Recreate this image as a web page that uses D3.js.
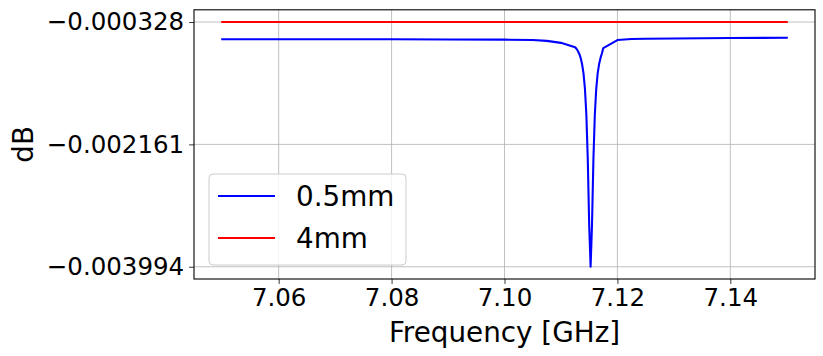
<!DOCTYPE html>
<html>
<head>
<meta charset="utf-8">
<script src="https://cdn.jsdelivr.net/npm/d3@7"></script>
<style>
  html, body { margin: 0; padding: 0; background: #fff; }
  svg { display: block; font-family: "DejaVu Sans", sans-serif; }
</style>
</head>
<body>
<svg id="chart" width="823" height="356"></svg>
<script>
// ---- data ----
const freqBlue = [
  7.05, 7.06, 7.07, 7.08, 7.09, 7.10, 7.105, 7.1075, 7.11,
  7.1125, 7.11275, 7.113, 7.11325, 7.1135, 7.11375, 7.114, 7.11425, 7.1145, 7.11475, 7.115,
  7.11525,
  7.1155, 7.11575, 7.116, 7.11625, 7.1165, 7.11675, 7.117, 7.11725, 7.1175,
  7.12, 7.1225, 7.125, 7.13, 7.14, 7.15
];
const valBlue = [
  -0.000587, -0.000587, -0.000587, -0.000587, -0.000589, -0.000592, -0.000598, -0.000610, -0.000640,
  -0.000705, -0.000729, -0.000762, -0.000806, -0.000869, -0.000961, -0.001101, -0.001329, -0.001716, -0.002382, -0.003366,
  -0.003994,
  -0.003366, -0.002382, -0.001716, -0.001329, -0.001101, -0.000961, -0.000869, -0.000800, -0.000718,
  -0.000598, -0.000583, -0.000578, -0.000574, -0.000568, -0.000563
];
const freqRed = [7.05, 7.06, 7.07, 7.08, 7.09, 7.10, 7.11, 7.12, 7.13, 7.14, 7.15];
const valRed  = [-0.000328, -0.000328, -0.000328, -0.000328, -0.000328, -0.000328, -0.000328, -0.000328, -0.000328, -0.000328, -0.000328];
const xTicks = [7.06, 7.08, 7.10, 7.12, 7.14];
const yTicks = [-0.000328, -0.002161, -0.003994];
const seriesNames = ["0.5mm", "4mm"];
const seriesColors = ["#0000ff", "#ff0000"];

// ---- layout ----
const svg = d3.select("#chart");
const L = 194, R = 815, T = 9.8, B = 279;
const xMin = 7.05, xMax = 7.15, xPad = (xMax - xMin) * 0.05;
const yMin = -0.003994, yMax = -0.000328, yPad = (yMax - yMin) * 0.05;
const x = d3.scaleLinear().domain([xMin - xPad, xMax + xPad]).range([L, R]);
const y = d3.scaleLinear().domain([yMin - yPad, yMax + yPad]).range([B, T]);

const tickFont = 24.5, labelFont = 27.8;
const fmtMinus = v => v.toFixed(6).replace("-", "\u2212");

// grid
const grid = svg.append("g");
grid.selectAll("line.gx").data(xTicks).join("line")
  .attr("x1", d => x(d)).attr("x2", d => x(d)).attr("y1", T).attr("y2", B)
  .attr("stroke", "#b0b0b0").attr("stroke-width", 0.8);
grid.selectAll("line.gy").data(yTicks).join("line")
  .attr("y1", d => y(d)).attr("y2", d => y(d)).attr("x1", L).attr("x2", R)
  .attr("stroke", "#b0b0b0").attr("stroke-width", 0.8);

// lines
const line = d3.line().x(d => x(d[0])).y(d => y(d[1]));
const blueData = freqBlue.map((f, i) => [f, valBlue[i]]);
const redData = freqRed.map((f, i) => [f, valRed[i]]);
svg.append("path").datum(blueData).attr("d", line)
  .attr("fill", "none").attr("stroke", seriesColors[0]).attr("stroke-width", 2.08)
  .attr("stroke-linejoin", "round").attr("stroke-linecap", "square");
svg.append("path").datum(redData).attr("d", line)
  .attr("fill", "none").attr("stroke", seriesColors[1]).attr("stroke-width", 2.08)
  .attr("stroke-linecap", "square");

// axes
const xAxis = d3.axisBottom(x).tickValues(xTicks).tickFormat(d3.format(".2f"))
  .tickSize(4.9).tickPadding(4.9);
const gx = svg.append("g").attr("transform", `translate(0,${B})`).call(xAxis);
gx.select(".domain").remove();
gx.selectAll("line").attr("stroke", "#000").attr("stroke-width", 0.8);
gx.selectAll("text").attr("font-size", tickFont).attr("fill", "#000")
  .attr("font-family", "DejaVu Sans");

const yAxis = d3.axisLeft(y).tickValues(yTicks).tickFormat(fmtMinus)
  .tickSize(4.9).tickPadding(4.9);
const gy = svg.append("g").attr("transform", `translate(${L},0)`).call(yAxis);
gy.select(".domain").remove();
gy.selectAll("line").attr("stroke", "#000").attr("stroke-width", 0.8);
gy.selectAll("text").attr("font-size", tickFont).attr("fill", "#000")
  .attr("font-family", "DejaVu Sans");

// frame
svg.append("rect").attr("x", L).attr("y", T).attr("width", R - L).attr("height", B - T)
  .attr("fill", "none").attr("stroke", "#000").attr("stroke-width", 1.1);

// axis labels
svg.append("text").attr("x", (L + R) / 2).attr("y", 342)
  .attr("text-anchor", "middle").attr("font-size", labelFont).attr("fill", "#000")
  .text("Frequency [GHz]");
svg.append("text")
  .attr("transform", `translate(33,${(T + B) / 2}) rotate(-90)`)
  .attr("text-anchor", "middle").attr("font-size", labelFont).attr("fill", "#000")
  .text("dB");

// legend
const lg = svg.append("g");
lg.append("rect").attr("x", 209).attr("y", 174).attr("width", 197).attr("height", 91)
  .attr("rx", 4).attr("fill", "#fff").attr("fill-opacity", 0.8)
  .attr("stroke", "#cccccc").attr("stroke-width", 1);
const legY = [196, 238];
seriesNames.forEach((name, i) => {
  lg.append("line").attr("x1", 218).attr("x2", 275).attr("y1", legY[i]).attr("y2", legY[i])
    .attr("stroke", seriesColors[i]).attr("stroke-width", 2.08);
  lg.append("text").attr("x", 296).attr("y", legY[i] + 10.3)
    .attr("font-size", labelFont).attr("fill", "#000").text(name);
});
</script>
</body>
</html>
